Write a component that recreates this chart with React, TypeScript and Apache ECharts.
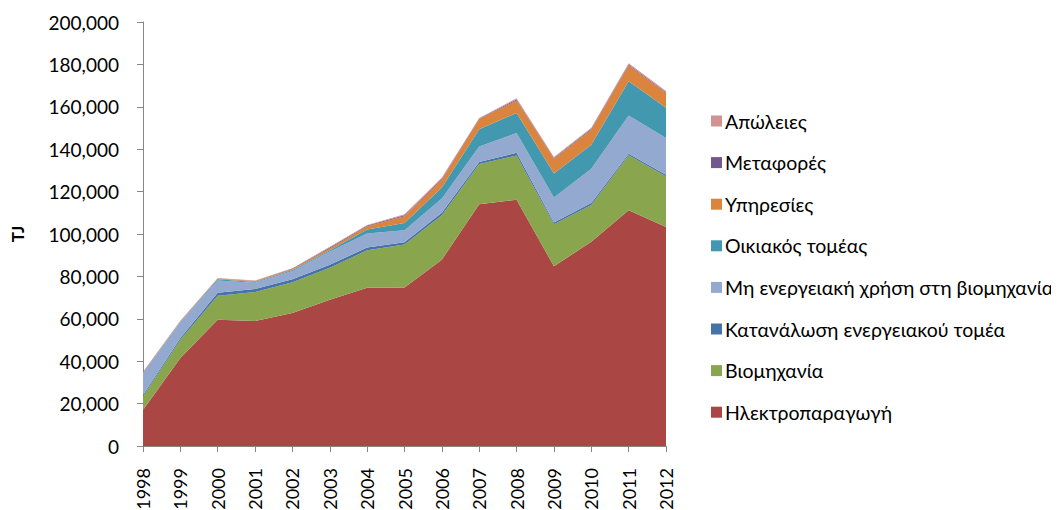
import React, { useEffect, useRef } from "react";
import * as echarts from "echarts";

const years = ["1998","1999","2000","2001","2002","2003","2004","2005","2006","2007","2008","2009","2010","2011","2012"];

const electricity = [17000, 41500, 59600, 58950, 62700, 69000, 74600, 74800, 87900, 114000, 116200, 84800, 96300, 111200, 103300];
const industry = [6300, 8600, 11300, 13650, 14500, 15100, 17700, 20200, 20900, 19000, 20800, 19800, 17400, 25900, 23900];
const energySector = [700, 900, 1400, 1400, 1400, 1400, 1300, 1100, 1200, 1000, 1300, 800, 900, 800, 800];
const nonEnergyUse = [10500, 7500, 5800, 3000, 3900, 6300, 6600, 5700, 6700, 7300, 9300, 11800, 16200, 18000, 17300];
const residential = [0, 100, 500, 400, 500, 500, 1900, 3400, 5200, 8100, 9500, 11300, 11300, 16200, 14300];
const services = [300, 300, 300, 300, 500, 900, 1500, 3200, 3700, 4800, 5900, 7000, 7100, 7400, 6900];
const transport = [50, 50, 100, 150, 200, 400, 400, 500, 500, 300, 500, 400, 400, 500, 400];
const losses = [150, 100, 200, 250, 200, 400, 300, 400, 500, 200, 500, 400, 500, 600, 500];

const seriesNames = [
  "Ηλεκτροπαραγωγή",
  "Βιομηχανία",
  "Κατανάλωση ενεργειακού τομέα",
  "Μη ενεργειακή χρήση στη βιομηχανία",
  "Οικιακός τομέας",
  "Υπηρεσίες",
  "Μεταφορές",
  "Απώλειες",
];
const seriesData = [electricity, industry, energySector, nonEnergyUse, residential, services, transport, losses];
const colors = ["#AA4643", "#89A54E", "#4572A7", "#93A9CF", "#4198AF", "#DB843D", "#71588F", "#D19392"];

const FONT = "Lato, 'Open Sans', sans-serif";

export default function App() {
  const ref = useRef<HTMLDivElement>(null);
  useEffect(() => {
    if (!ref.current) return;
    const chart = echarts.init(ref.current, undefined, { renderer: "svg" });
    chart.setOption({
      animation: false,
      color: colors,
      textStyle: { fontFamily: FONT },
      grid: { left: 135, right: 393, top: 14, bottom: 64, containLabel: false, outerBoundsMode: "none" },
      legend: {
        orient: "vertical",
        left: 698,
        top: 98,
        itemWidth: 11,
        itemHeight: 11,
        itemGap: 21.6,
        icon: "rect",
        data: seriesNames.slice().reverse(),
        textStyle: { fontFamily: FONT, fontSize: 19.5, color: "#000", lineHeight: 20, padding: [0, 0, 0, -2] },
      },
      xAxis: {
        type: "category",
        data: years,
        boundaryGap: false,
        axisLine: { lineStyle: { color: "#868686", width: 1 } },
        axisTick: { show: true, length: 6, lineStyle: { color: "#868686" } },
        axisLabel: { rotate: 90, color: "#000", fontSize: 18, fontFamily: FONT, margin: 22, interval: 0 },
      },
      yAxis: {
        type: "value",
        min: 0,
        max: 200000,
        interval: 20000,
        name: "TJ",
        nameLocation: "middle",
        nameGap: 117,
        nameRotate: 90,
        nameTextStyle: { fontWeight: "bold", fontSize: 17, color: "#000", fontFamily: FONT },
        axisLine: { show: true, lineStyle: { color: "#868686", width: 1 } },
        axisTick: { show: true, length: 6, lineStyle: { color: "#868686" } },
        splitLine: { show: false },
        axisLabel: {
          color: "#000",
          fontSize: 19,
          fontFamily: FONT,
          margin: 24,
          formatter: (v: number) => v.toLocaleString("en-US"),
        },
      },
      series: seriesNames.map((name, i) => ({
        name,
        type: "line",
        stack: "total",
        data: seriesData[i],
        symbol: "none",
        lineStyle: { width: 0 },
        areaStyle: { color: colors[i], opacity: 1 },
        itemStyle: { color: colors[i] },
        emphasis: { disabled: true },
      })),
    });
    return () => chart.dispose();
  }, []);
  return <div ref={ref} style={{ width: 1051, height: 502 }} />;
}
